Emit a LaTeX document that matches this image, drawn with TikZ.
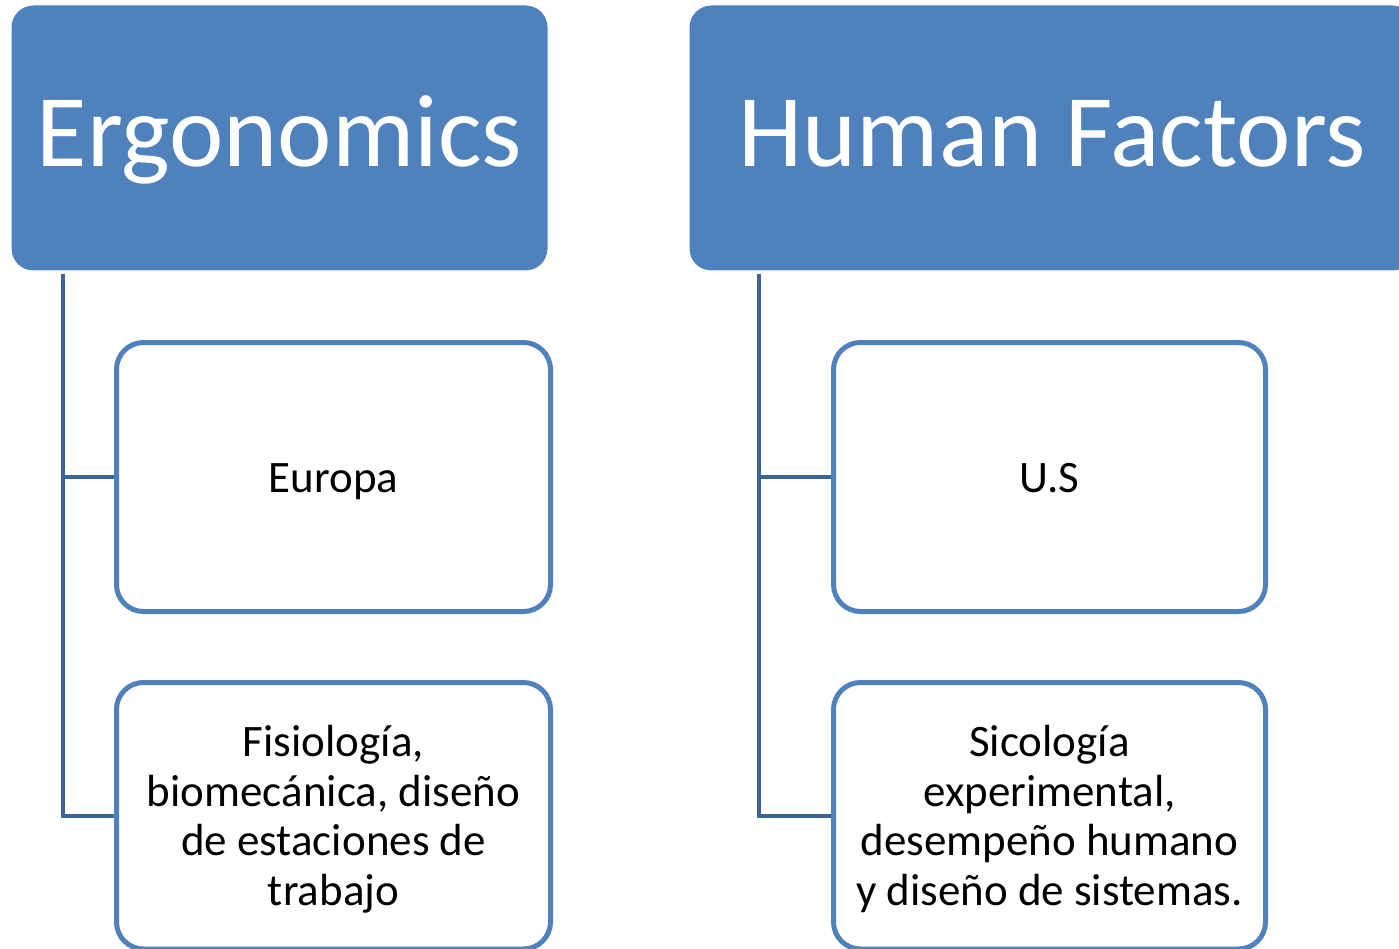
\documentclass[tikz,border=0pt]{standalone}
\usepackage{fontspec}
\setmainfont{Carlito}
\usetikzlibrary{calc}
\definecolor{acc}{HTML}{4F81BD}
\definecolor{conncol}{HTML}{3C6496}
\begin{document}
\begin{tikzpicture}[x=1pt,y=-1pt,
  header/.style={draw=white, line width=1pt, fill=acc, rounded corners=22pt, inner sep=0pt},
  child/.style={draw=acc, line width=5pt, fill=white, rounded corners=27pt, inner sep=0pt},
  connline/.style={draw=conncol, line width=4pt},
  htext/.style={text=white, font=\fontsize{103}{110}\selectfont, anchor=base, inner sep=0pt},
  ctext/.style={text=black, font=\fontsize{45}{49.5}\selectfont, align=center, anchor=base, inner sep=0pt}]
\useasboundingbox (0,0) rectangle (1399,949);
\clip (0,0) rectangle (1399,949);
% headers
\node[header, minimum width=537pt, minimum height=266pt] (h1) at (279.5,138) {};
\node[header, minimum width=726pt, minimum height=266pt] (h2) at (1052,138) {};
% children
\node[child, minimum width=434pt, minimum height=269pt] (c1) at (333.5,477) {};
\node[child, minimum width=434pt, minimum height=266.5pt] (c2) at (333.5,815.75) {};
\node[child, minimum width=432pt, minimum height=269pt] (c3) at (1049.5,477) {};
\node[child, minimum width=432pt, minimum height=266.5pt] (c4) at (1049.5,815.75) {};
% connectors
\draw[connline] ($(h1.south west)+(52,3)$) |- (c1.west);
\draw[connline] ($(h1.south west)+(52,3)$) |- (c2.west);
\draw[connline] ($(h2.south west)+(70,3)$) |- (c3.west);
\draw[connline] ($(h2.south west)+(70,3)$) |- (c4.west);
% texts
\node[htext] (t1) at (279.5,167) {Ergonomics};
\node[htext] (t2) at (1052,167) {Human Factors};
\node[ctext] (l1) at (333.5,492) {Europa};
\node[ctext] (l2) at (333.5,905) {Fisiología,\\biomecánica, diseño\\de estaciones de\\trabajo};
\node[ctext] (l3) at (1049.5,492) {U.S};
\node[ctext] (l4) at (1049.5,905) {Sicología\\experimental,\\desempeño humano\\y diseño de sistemas.};
\end{tikzpicture}
\end{document}
